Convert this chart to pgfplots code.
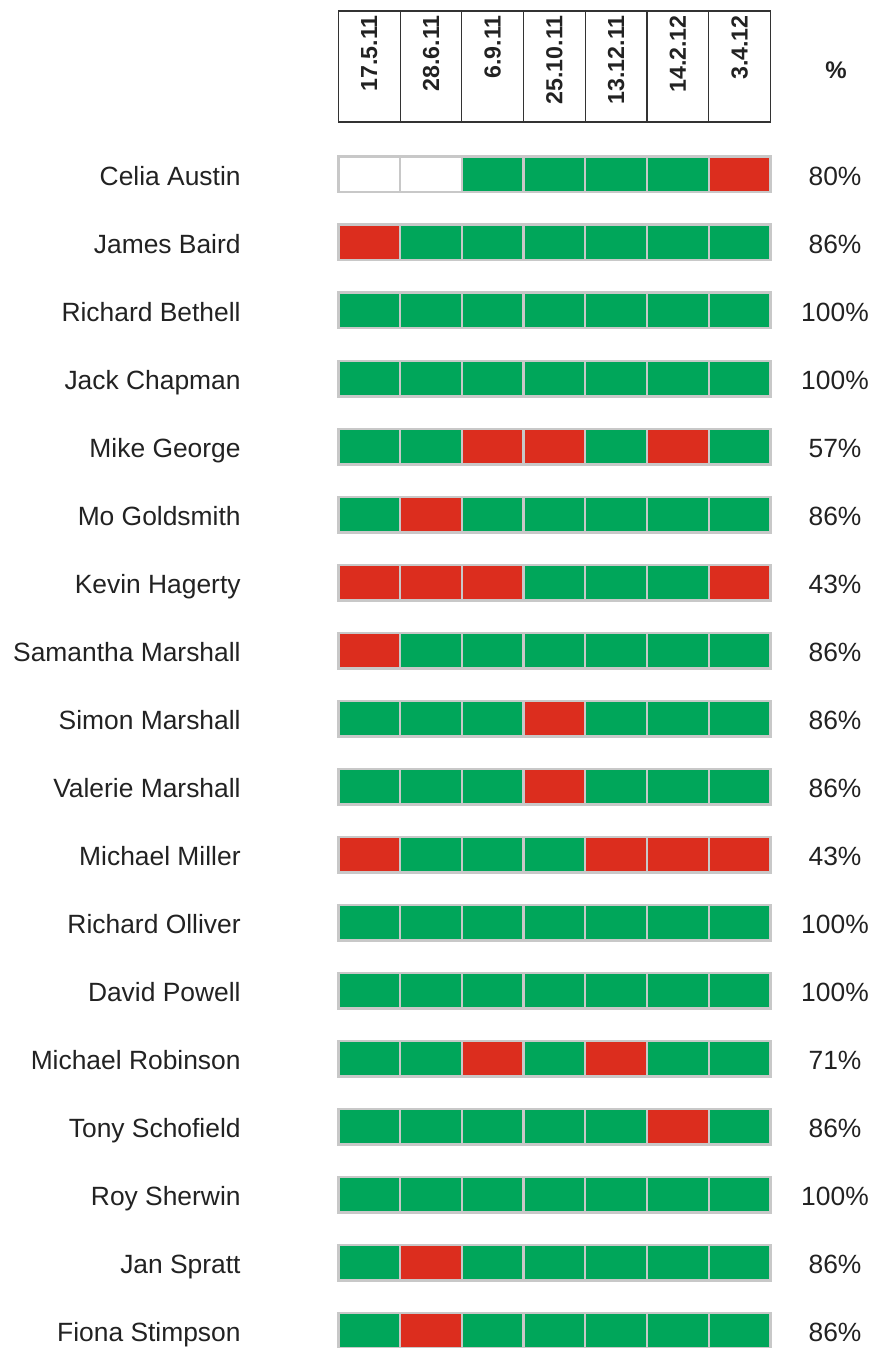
\documentclass[border=0pt]{standalone}
\usepackage{pgfplots}
\pgfplotsset{compat=1.18}
\usepackage{fontspec}
\setmainfont{Liberation Sans}
\definecolor{cgreen}{HTML}{00A65A}
\definecolor{cred}{HTML}{DC2D1E}
\definecolor{cgray}{HTML}{C8C8C8}
\definecolor{ctext}{HTML}{222222}
\pgfdeclareplotmark{cell}{%
  \pgfpathrectangle{\pgfpoint{-15.425pt}{-8.9pt}}{\pgfpoint{30.85pt}{17.8pt}}%
  \pgfusepathqfillstroke}
\begin{document}
\begin{tikzpicture}[font=\fontsize{13.2}{15}\selectfont, text=ctext]
\begin{axis}[
  at={(0,0)}, anchor=south west,
  scale only axis, width=436.5pt, height=674pt,
  xmin=-4.986, xmax=9.163,
  ymin=-1.566, ymax=18.257, y dir=reverse,
  hide axis, clip=false,
]
% present (green)
\addplot[only marks, mark=cell, mark options={fill=cgreen, draw=cgray, line width=1.2pt}] coordinates {
(3,1)(4,1)(5,1)(6,1)
(2,2)(3,2)(4,2)(5,2)(6,2)(7,2)
(1,3)(2,3)(3,3)(4,3)(5,3)(6,3)(7,3)
(1,4)(2,4)(3,4)(4,4)(5,4)(6,4)(7,4)
(1,5)(2,5)(5,5)(7,5)
(1,6)(3,6)(4,6)(5,6)(6,6)(7,6)
(4,7)(5,7)(6,7)
(2,8)(3,8)(4,8)(5,8)(6,8)(7,8)
(1,9)(2,9)(3,9)(5,9)(6,9)(7,9)
(1,10)(2,10)(3,10)(5,10)(6,10)(7,10)
(2,11)(3,11)(4,11)
(1,12)(2,12)(3,12)(4,12)(5,12)(6,12)(7,12)
(1,13)(2,13)(3,13)(4,13)(5,13)(6,13)(7,13)
(1,14)(2,14)(4,14)(6,14)(7,14)
(1,15)(2,15)(3,15)(4,15)(5,15)(7,15)
(1,16)(2,16)(3,16)(4,16)(5,16)(6,16)(7,16)
(1,17)(3,17)(4,17)(5,17)(6,17)(7,17)
(1,18)(3,18)(4,18)(5,18)(6,18)(7,18)
};
% absent (red)
\addplot[only marks, mark=cell, mark options={fill=cred, draw=cgray, line width=1.2pt}] coordinates {
(7,1)
(1,2)
(3,5)(4,5)(6,5)
(2,6)
(1,7)(2,7)(3,7)(7,7)
(1,8)
(4,9)
(4,10)
(1,11)(5,11)(6,11)(7,11)
(3,14)(5,14)
(6,15)
(2,17)
(2,18)
};
% not applicable (white)
\addplot[only marks, mark=cell, mark options={fill=white, draw=cgray, line width=1.2pt}] coordinates {
(1,1)(2,1)
};
% header box
\draw[line width=0.6pt, black!80] (axis cs:0.5,-1.404) rectangle (axis cs:7.5,0.228);
\draw[line width=0.6pt, black!80] (axis cs:1.5,-1.404) -- (axis cs:1.5,0.228);
\draw[line width=0.6pt, black!80] (axis cs:2.5,-1.404) -- (axis cs:2.5,0.228);
\draw[line width=0.6pt, black!80] (axis cs:3.5,-1.404) -- (axis cs:3.5,0.228);
\draw[line width=0.6pt, black!80] (axis cs:4.5,-1.404) -- (axis cs:4.5,0.228);
\draw[line width=0.6pt, black!80] (axis cs:5.5,-1.404) -- (axis cs:5.5,0.228);
\draw[line width=0.6pt, black!80] (axis cs:6.5,-1.404) -- (axis cs:6.5,0.228);
\begin{scope}[every node/.style={rotate=90, anchor=east, inner sep=0pt, font=\fontsize{11.6}{13}\selectfont\bfseries}]
\node at (axis cs:1,-1.346) {17.5.11};
\node at (axis cs:2,-1.346) {28.6.11};
\node at (axis cs:3,-1.346) {6.9.11};
\node at (axis cs:4,-1.346) {25.10.11};
\node at (axis cs:5,-1.346) {13.12.11};
\node at (axis cs:6,-1.346) {14.2.12};
\node at (axis cs:7,-1.346) {3.4.12};
\end{scope}
\node[font=\fontsize{12}{14}\selectfont\bfseries] at (axis cs:8.563,-0.537) {\%};
% names
\begin{scope}[every node/.style={anchor=base east, inner sep=0pt, yshift=-5.7pt}]
\node at (axis cs:-1.08,1) {Celia Austin};
\node at (axis cs:-1.08,2) {James Baird};
\node at (axis cs:-1.08,3) {Richard Bethell};
\node at (axis cs:-1.08,4) {Jack Chapman};
\node at (axis cs:-1.08,5) {Mike George};
\node at (axis cs:-1.08,6) {Mo Goldsmith};
\node at (axis cs:-1.08,7) {Kevin Hagerty};
\node at (axis cs:-1.08,8) {Samantha Marshall};
\node at (axis cs:-1.08,9) {Simon Marshall};
\node at (axis cs:-1.08,10) {Valerie Marshall};
\node at (axis cs:-1.08,11) {Michael Miller};
\node at (axis cs:-1.08,12) {Richard Olliver};
\node at (axis cs:-1.08,13) {David Powell};
\node at (axis cs:-1.08,14) {Michael Robinson};
\node at (axis cs:-1.08,15) {Tony Schofield};
\node at (axis cs:-1.08,16) {Roy Sherwin};
\node at (axis cs:-1.08,17) {Jan Spratt};
\node at (axis cs:-1.08,18) {Fiona Stimpson};
\end{scope}
% percentages
\begin{scope}[every node/.style={anchor=base, inner sep=0pt, yshift=-5.3pt}]
\node at (axis cs:8.547,1) {80\%};
\node at (axis cs:8.547,2) {86\%};
\node at (axis cs:8.547,3) {100\%};
\node at (axis cs:8.547,4) {100\%};
\node at (axis cs:8.547,5) {57\%};
\node at (axis cs:8.547,6) {86\%};
\node at (axis cs:8.547,7) {43\%};
\node at (axis cs:8.547,8) {86\%};
\node at (axis cs:8.547,9) {86\%};
\node at (axis cs:8.547,10) {86\%};
\node at (axis cs:8.547,11) {43\%};
\node at (axis cs:8.547,12) {100\%};
\node at (axis cs:8.547,13) {100\%};
\node at (axis cs:8.547,14) {71\%};
\node at (axis cs:8.547,15) {86\%};
\node at (axis cs:8.547,16) {100\%};
\node at (axis cs:8.547,17) {86\%};
\node at (axis cs:8.547,18) {86\%};
\end{scope}
\end{axis}
\pgfresetboundingbox
\useasboundingbox (0,0) rectangle (436.5pt,674pt);
\end{tikzpicture}
\end{document}
